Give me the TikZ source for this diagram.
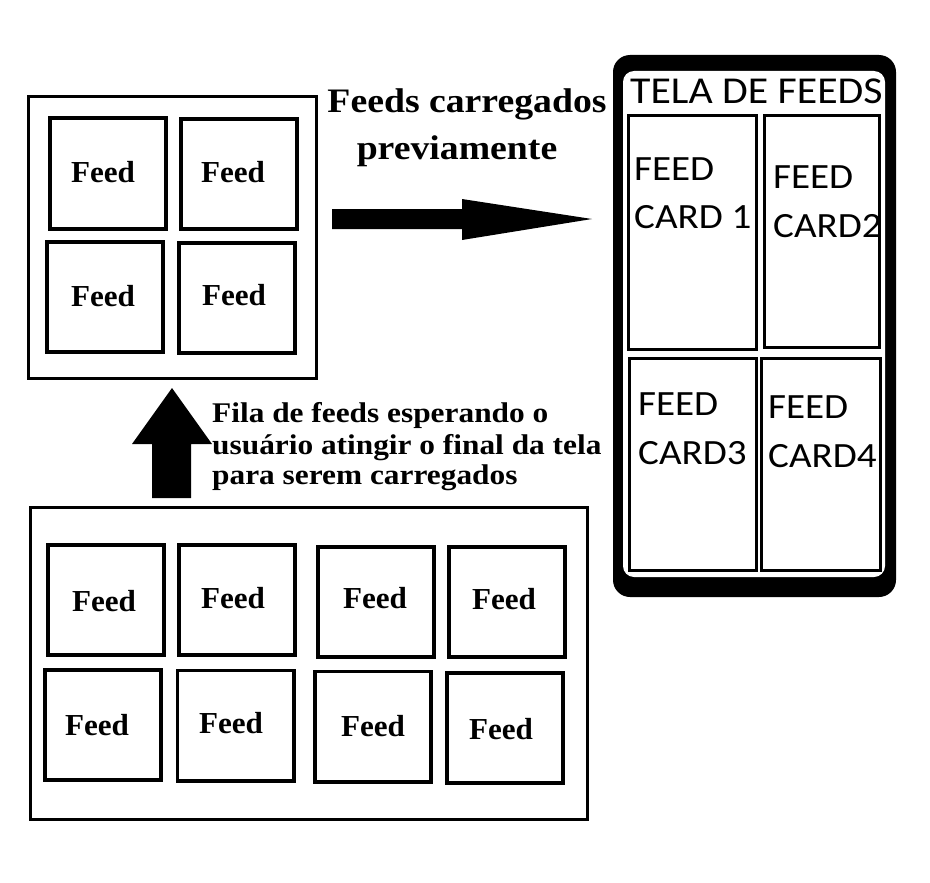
\documentclass[tikz,border=0pt]{standalone}
\usepackage{fontspec}
\newfontfamily\labfont[FakeStretch=1.1]{Liberation Serif}
\newfontfamily\feedfont[FakeStretch=1.02]{Liberation Serif}
\newfontfamily\cardfont[FakeStretch=1.1]{Carlito}
\newfontfamily\telafont[FakeStretch=1.1]{Carlito}
\begin{document}
\begin{tikzpicture}[x=1pt,y=-1pt,
  fbox/.style={draw=black,line width=3.8pt,rectangle,inner sep=0pt,minimum width=116.2pt,minimum height=110.2pt},
  cardbox/.style={draw=black,line width=2.8pt,rectangle,inner sep=0pt},
  feedtxt/.style={inner sep=0pt,anchor=base,font=\feedfont\bfseries\fontsize{30.5}{36}\selectfont},
  labtxt/.style={inner sep=0pt,font=\labfont\bfseries\fontsize{34.3}{40}\selectfont},
  filatxt/.style={inner sep=0pt,anchor=base west,font=\labfont\bfseries\fontsize{28.5}{31}\selectfont},
  cardtxt/.style={inner sep=0pt,anchor=base west,font=\cardfont\fontsize{35.5}{42}\selectfont},
  blockarrow/.style={fill=black,draw=none}
]
\useasboundingbox[fill=white] (0,0) rectangle (930,883);

% ---- top-left group ----
\node[draw=black,line width=3pt,rectangle,inner sep=0pt,minimum width=287.8pt,minimum height=281pt] (topgroup) at (172.6,237.5) {};
\node[fbox,minimum height=111.2pt] (t1) at (108,173.5) {};
\node[fbox] (t2) at (239,174) {};
\node[fbox] (t3) at (105,297) {};
\node[fbox] (t4) at (237,298) {};
\node[feedtxt] (t1l) at (103,182) {Feed};
\node[feedtxt] (t2l) at (233,182) {Feed};
\node[feedtxt] (t3l) at (103,306) {Feed};
\node[feedtxt] (t4l) at (234,305) {Feed};

% ---- title and right arrow ----
\node[labtxt,anchor=base] (title1) at (467,113) {Feeds carregados};
\node[labtxt,anchor=base] (title2) at (457,160) {previamente};
\fill[blockarrow] (332,209) -- (462,209) -- (462,199) -- (592,219) -- (462,240) -- (462,229) -- (332,229) -- cycle;

% ---- phone ----
\fill[black,rounded corners=17pt] (613,55) rectangle (896,597);
\fill[white,rounded corners=11pt] (623,71) rectangle (885,577);
\node[inner sep=0pt,anchor=base west,font=\telafont\fontsize{38}{44}\selectfont] (tela) at (630,103) {TELA DE FEEDS};
\node[cardbox,minimum width=128.3pt,minimum height=234.3pt] (c1) at (692.5,232.5) {};
\node[cardbox,minimum width=115.3pt,minimum height=232.3pt] (c2) at (822,231.5) {};
\node[cardbox,minimum width=127.3pt,minimum height=212.3pt] (c3) at (693,464.5) {};
\node[cardbox,minimum width=119.3pt,minimum height=212.3pt] (c4) at (821,464.5) {};
\node[cardtxt] (c1a) at (634,180) {FEED};
\node[cardtxt] (c1b) at (634,228) {CARD 1};
\node[cardtxt] (c2a) at (773,188) {FEED};
\node[cardtxt] (c2b) at (773,237) {CARD2};
\node[cardtxt] (c3a) at (638,415) {FEED};
\node[cardtxt] (c3b) at (638,464) {CARD3};
\node[cardtxt] (c4a) at (768,418) {FEED};
\node[cardtxt] (c4b) at (768,467) {CARD4};

% ---- up arrow and queue label ----
\fill[blockarrow] (152,498) -- (152,444) -- (132,444) -- (172,388) -- (212,444) -- (191,444) -- (191,498) -- cycle;
\node[filatxt] (fila1) at (212,422) {Fila de feeds esperando o};
\node[filatxt] (fila2) at (212,454) {usuário atingir o final da tela};
\node[filatxt] (fila3) at (212,484) {para serem carregados};

% ---- bottom queue ----
\node[draw=black,line width=2.6pt,rectangle,inner sep=0pt,minimum width=556.5pt,minimum height=311.8pt] (queue) at (308.95,663.6) {};
\node[fbox] (b1) at (106,600) {};
\node[fbox] (b2) at (237,600) {};
\node[fbox] (b3) at (376,602) {};
\node[fbox] (b4) at (507,602) {};
\node[fbox] (b5) at (103,725) {};
\node[fbox] (b6) at (235.5,725.5) {};
\node[fbox] (b7) at (373,726.5) {};
\node[fbox] (b8) at (505,728) {};
\node[feedtxt] (b1l) at (104,611) {Feed};
\node[feedtxt] (b2l) at (233,608) {Feed};
\node[feedtxt] (b3l) at (375,608) {Feed};
\node[feedtxt] (b4l) at (504,609) {Feed};
\node[feedtxt] (b5l) at (97,735) {Feed};
\node[feedtxt] (b6l) at (231,733) {Feed};
\node[feedtxt] (b7l) at (373,736) {Feed};
\node[feedtxt] (b8l) at (501,739) {Feed};
\end{tikzpicture}
\end{document}
